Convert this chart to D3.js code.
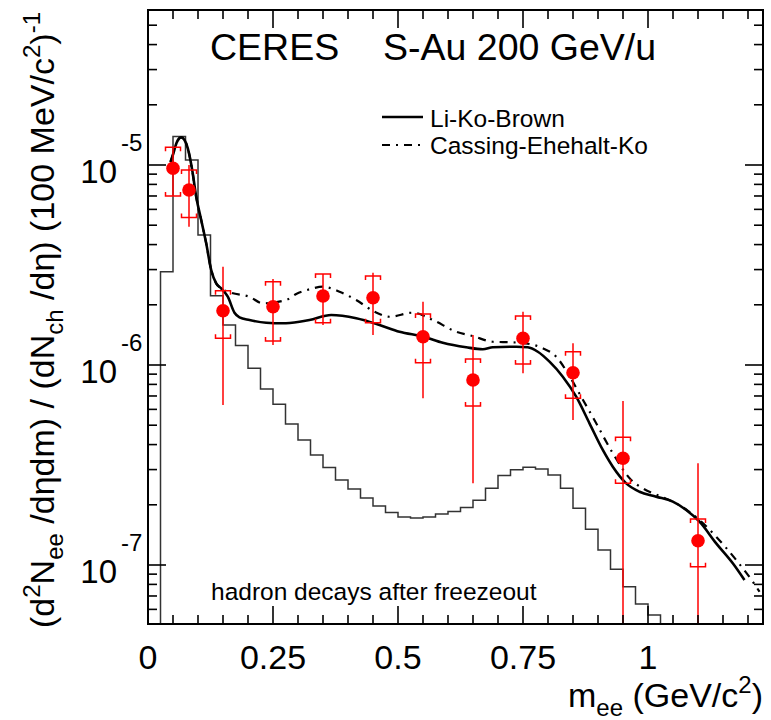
<!DOCTYPE html>
<html><head><meta charset="utf-8">
<script src="https://cdn.jsdelivr.net/npm/d3@7"></script>
<style>body{margin:0;background:#fff}</style>
</head><body>
<svg id="c" width="771" height="720"></svg>
<script>
// ---- data ----
const pointMass  = [0.05, 0.082, 0.15, 0.25, 0.35, 0.45, 0.55, 0.65, 0.75, 0.85, 0.95, 1.10];
const pointValue = [9.63e-6, 7.50e-6, 1.868e-6, 1.956e-6, 2.213e-6, 2.17e-6, 1.385e-6, 8.41e-7, 1.36e-6, 9.15e-7, 3.42e-7, 1.322e-7];
const statHigh   = [1.226e-5, 1.0e-5, 3.10e-6, 2.69e-6, 2.85e-6, 2.89e-6, 2.07e-6, 1.413e-6, 1.847e-6, 1.283e-6, 6.61e-7, 3.225e-7];
const statLow    = [7.0e-6, 4.91e-6, 6.31e-7, 1.26e-6, 1.585e-6, 1.413e-6, 6.82e-7, 2.56e-7, 9.09e-7, 5.31e-7, 1e-9, 1e-9];
const sysHigh    = [1.226e-5, 9.44e-6, 2.35e-6, 2.61e-6, 2.85e-6, 2.79e-6, 1.80e-6, 1.072e-6, 1.758e-6, 1.165e-6, 4.35e-7, 1.70e-7];
const sysLow     = [7.0e-6, 5.47e-6, 1.36e-6, 1.32e-6, 1.627e-6, 1.627e-6, 1.027e-6, 6.24e-7, 1.012e-6, 6.82e-7, 2.56e-7, 9.80e-8];

const histLowEdge = [0.025,0.05,0.075,0.1,0.125,0.15,0.175,0.2,0.225,0.25,0.275,0.3,0.325,0.35,0.375,0.4,0.425,0.45,0.475,0.5,
                     0.525,0.55,0.575,0.6,0.625,0.65,0.675,0.7,0.725,0.75,0.775,0.8,0.825,0.85,0.875,0.9,0.925,0.95,0.975,1.0,1.025];
const histValue = [2.93e-6,1.39e-5,1.06e-5,4.47e-6,2.22e-6,1.585e-6,1.25e-6,9.63e-7,7.59e-7,6.36e-7,5.07e-7,4.22e-7,3.55e-7,3.07e-7,2.66e-7,
                   2.40e-7,2.16e-7,1.97e-7,1.83e-7,1.74e-7,1.72e-7,1.74e-7,1.80e-7,1.85e-7,1.94e-7,2.11e-7,2.42e-7,2.80e-7,2.99e-7,3.08e-7,
                   3.02e-7,2.82e-7,2.42e-7,1.92e-7,1.51e-7,1.19e-7,9.52e-8,7.79e-8,6.38e-8,5.62e-8,4.5e-8];
const histBinWidth = 0.025;

const lkbMass  = [0.045,0.051,0.057,0.0664,0.073,0.0796,0.0884,0.0964,0.1064,0.1164,0.1264,0.1364,0.1464,0.1596,0.173,0.183,0.203,0.2364,
                  0.2696,0.303,0.323,0.3664,0.4164,0.463,0.503,0.5516,0.5896,0.6364,0.6696,0.6896,0.7364,0.7596,0.7796,0.803,0.8296,
                  0.8564,0.883,0.9096,0.9296,0.9564,0.983,1.0164,1.0496,1.0764,1.103,1.1364,1.1696,1.193];
const lkbValue = [1.035e-5,1.148e-5,1.288e-5,1.375e-5,1.334e-5,1.212e-5,9.44e-6,6.94e-6,5.31e-6,4.06e-6,2.985e-6,2.56e-6,2.417e-6,2.195e-6,
                  1.826e-6,1.731e-6,1.679e-6,1.627e-6,1.616e-6,1.646e-6,1.679e-6,1.778e-6,1.712e-6,1.585e-6,1.467e-6,1.385e-6,1.292e-6,
                  1.226e-6,1.198e-6,1.226e-6,1.234e-6,1.226e-6,1.165e-6,1.039e-6,8.74e-7,6.94e-7,5.11e-7,3.76e-7,3.10e-7,2.56e-7,2.325e-7,
                  2.196e-7,2.073e-7,1.884e-7,1.646e-7,1.283e-7,1.020e-7,8.41e-8];

const cekMass  = [0.045,0.051,0.057,0.0664,0.073,0.0796,0.0884,0.0964,0.1064,0.1164,0.1264,0.1364,0.1464,0.1664,0.203,0.2296,0.2764,0.2964,
                  0.323,0.3496,0.383,0.4164,0.453,0.483,0.5296,0.5696,0.6164,0.6496,0.6896,0.7296,0.763,0.7896,0.8164,0.8396,0.8664,
                  0.8964,0.9296,0.9664,0.9896,1.023,1.0564,1.103,1.1364,1.1764,1.2096,1.223];
const cekValue = [1.035e-5,1.148e-5,1.288e-5,1.375e-5,1.334e-5,1.212e-5,9.44e-6,6.94e-6,5.31e-6,4.06e-6,2.985e-6,2.56e-6,2.417e-6,2.298e-6,
                  2.195e-6,2.034e-6,2.113e-6,2.265e-6,2.39e-6,2.463e-6,2.325e-6,2.113e-6,1.847e-6,1.743e-6,1.826e-6,1.679e-6,1.467e-6,
                  1.396e-6,1.307e-6,1.298e-6,1.274e-6,1.212e-6,1.100e-6,9.09e-7,6.94e-7,5.11e-7,3.62e-7,2.66e-7,2.417e-7,2.213e-7,
                  2.034e-7,1.679e-7,1.385e-7,1.059e-7,8.25e-8,7.35e-8];

const xTickValues = [0, 0.25, 0.5, 0.75, 1];
const xTickLabels = ["0", "0.25", "0.5", "0.75", "1"];
const yDecades = [-5, -6, -7];
const legendLabels = ["Li-Ko-Brown", "Cassing-Ehehalt-Ko"];

// ---- layout ----
const L = 148, R = 763, T = 10, B = 624;
const FONT = "'Liberation Sans', Arial, Helvetica, sans-serif";
const svg = d3.select("#c").style("font-family", FONT);
const x = d3.scaleLinear().domain([0, 1.23]).range([L, R]);
const y = d3.scaleLog().domain([Math.pow(10, -7.295), Math.pow(10, -4.225)]).range([B, T]);
const yClamp = v => Math.min(B, Math.max(T, y(Math.max(v, 1e-12))));

svg.append("clipPath").attr("id", "clip").append("rect")
  .attr("x", L).attr("y", T).attr("width", R - L).attr("height", B - T);
const plot = svg.append("g").attr("clip-path", "url(#clip)");

// histogram (hadron decays)
const hpts = [[histLowEdge[0], 1e-9]];
histLowEdge.forEach((e, i) => { hpts.push([e, histValue[i]]); hpts.push([e + histBinWidth, histValue[i]]); });
hpts.push([histLowEdge[histLowEdge.length - 1] + histBinWidth, 1e-9]);
plot.append("path")
  .attr("d", d3.line().x(d => x(d[0])).y(d => yClamp(d[1]))(hpts))
  .attr("fill", "none").attr("stroke", "#333").attr("stroke-width", 1.5);

// curves
const curveLine = d3.line().x(d => x(d[0])).y(d => y(d[1])).curve(d3.curveMonotoneX);
plot.append("path")
  .attr("d", curveLine(cekMass.map((m, i) => [m, cekValue[i]])))
  .attr("fill", "none").attr("stroke", "#000").attr("stroke-width", 2.2)
  .attr("stroke-dasharray", "8,6,2,6");
plot.append("path")
  .attr("d", curveLine(lkbMass.map((m, i) => [m, lkbValue[i]])))
  .attr("fill", "none").attr("stroke", "#000").attr("stroke-width", 2.6);

// data points
const pts = plot.append("g");
pointMass.forEach((m, i) => {
  const px = x(m);
  pts.append("line").attr("x1", px).attr("x2", px)
    .attr("y1", yClamp(statHigh[i])).attr("y2", yClamp(statLow[i]))
    .attr("stroke", "#ff0000").attr("stroke-width", 1.5);
  const yt = y(sysHigh[i]), yb = y(sysLow[i]), w = 7.5, h = 4;
  pts.append("path")
    .attr("d", `M${px - w},${yt + h}V${yt}H${px + w}V${yt + h}M${px - w},${yb - h}V${yb}H${px + w}V${yb - h}`)
    .attr("fill", "none").attr("stroke", "#ff0000").attr("stroke-width", 1.5);
  pts.append("circle").attr("cx", px).attr("cy", y(pointValue[i])).attr("r", 6.8).attr("fill", "#ff0000");
});

// frame and ticks
const ax = svg.append("g").attr("stroke", "#000").attr("stroke-width", 1.6);
ax.append("rect").attr("x", L).attr("y", T).attr("width", R - L).attr("height", B - T).attr("fill", "none").attr("stroke-width", 2);
const xMinor = d3.range(0, 1.2301, 0.05);
xMinor.forEach(v => {
  const major = Math.abs(v / 0.25 - Math.round(v / 0.25)) < 1e-6;
  const len = major ? 18 : 9;
  ax.append("line").attr("x1", x(v)).attr("x2", x(v)).attr("y1", B).attr("y2", B - len);
  ax.append("line").attr("x1", x(v)).attr("x2", x(v)).attr("y1", T).attr("y2", T + len);
});
[-8, -7, -6, -5, -4].forEach(d => {
  for (let k = 1; k <= 9; k++) {
    const v = k * Math.pow(10, d);
    const yy = y(v);
    if (yy < T - 0.5 || yy > B + 0.5) continue;
    const len = k === 1 ? 18 : 9;
    ax.append("line").attr("x1", L).attr("x2", L + len).attr("y1", yy).attr("y2", yy);
    ax.append("line").attr("x1", R).attr("x2", R - len).attr("y1", yy).attr("y2", yy);
  }
});

// tick labels
xTickValues.forEach((v, i) => {
  svg.append("text").attr("x", x(v)).attr("y", 669).attr("text-anchor", "middle")
    .attr("font-size", 34).text(xTickLabels[i]);
});
yDecades.forEach(d => {
  const yy = y(Math.pow(10, d));
  svg.append("text").attr("x", 117).attr("y", yy + 18).attr("text-anchor", "end")
    .attr("font-size", 33).text("10");
  svg.append("text").attr("x", 121).attr("y", yy - 14).attr("font-size", 24).text(String(d));
});

// axis titles
const xt = svg.append("text").attr("x", 763).attr("y", 707).attr("text-anchor", "end").attr("font-size", 34);
xt.append("tspan").text("m");
xt.append("tspan").attr("font-size", 24).attr("dy", 9).text("ee");
xt.append("tspan").attr("dy", -9).text(" (GeV/c");
xt.append("tspan").attr("font-size", 24).attr("dy", -14).text("2");
xt.append("tspan").attr("dy", 14).text(")");

const yt = svg.append("text").attr("transform", "translate(54,12) rotate(-90)")
  .attr("text-anchor", "end").attr("font-size", 34);
const parts = [["(d", 0], ["2", 1], ["N", 0], ["ee", -1], [" /dηdm) / (dN", 0], ["ch", -1], [" /dη) (100 MeV/c", 0], ["2", 1], [")", 0], ["-1", 1]];
let cur = 0;
parts.forEach(([t, s]) => {
  const target = s === 1 ? -14 : (s === -1 ? 9 : 0);
  yt.append("tspan").attr("dy", target - cur).attr("font-size", s === 0 ? 34 : 24).text(t);
  cur = target;
});

// title
svg.append("text").attr("x", 210).attr("y", 60).attr("font-size", 37.5).text("CERES");
svg.append("text").attr("x", 383).attr("y", 60).attr("font-size", 37.5).text("S-Au 200 GeV/u");

// legend
svg.append("line").attr("x1", 382).attr("x2", 423).attr("y1", 117).attr("y2", 117)
  .attr("stroke", "#000").attr("stroke-width", 2.6);
svg.append("line").attr("x1", 382).attr("x2", 423).attr("y1", 145).attr("y2", 145)
  .attr("stroke", "#000").attr("stroke-width", 2.2).attr("stroke-dasharray", "8,6,2,6");
svg.append("text").attr("x", 430).attr("y", 127).attr("font-size", 24.5).text(legendLabels[0]);
svg.append("text").attr("x", 430).attr("y", 154).attr("font-size", 24.5).text(legendLabels[1]);

svg.append("text").attr("x", 211).attr("y", 600).attr("font-size", 24.5).text("hadron decays after freezeout");
</script>
</body></html>
